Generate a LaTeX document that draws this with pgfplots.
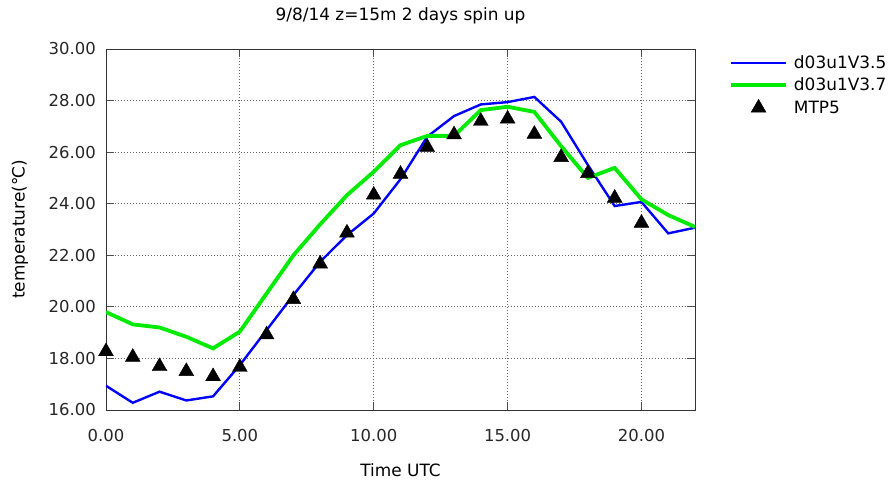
\documentclass[border=0pt]{standalone}
\usepackage{fontspec}
\setmainfont{DejaVu Sans}
\usepackage{pgfplots}
\pgfplotsset{compat=1.18}
\definecolor{bl}{RGB}{0,0,255}
\definecolor{gr}{RGB}{0,235,0}
\pgfplotsset{
  lineleg/.style={legend image code/.code={\draw[##1] (0bp,0bp) -- (55bp,0bp);}},
  markleg/.style={legend image code/.code={\draw[##1] plot coordinates {(27.5bp,0bp)};}},
}
\begin{document}
\begin{tikzpicture}
\path[use as bounding box] (-106bp,-70bp) rectangle (785bp,410bp);
\begin{axis}[
  anchor=south west,
  scale only axis, width=589bp, height=361bp,
  xmin=0, xmax=22, ymin=16, ymax=30,
  xtick={0,5,10,15,20}, ytick={16,18,20,22,24,26,28,30},
  /pgf/number format/fixed, /pgf/number format/fixed zerofill,
  /pgf/number format/precision=2, /pgf/number format/assume math mode=true,
  grid=major,
  major grid style={black!60, line width=0.8bp, dash pattern=on 1bp off 2bp},
  axis line style={black!80, line width=0.9bp},
  every tick/.style={black!70, line width=0.9bp},
  major tick length=8bp, tick align=inside,
  tick label style={font=\fontsize{16.5}{19}\selectfont, black!85},
  xticklabel style={anchor=base, inner sep=0pt, yshift=-31bp},
  yticklabel style={anchor=east, inner sep=0pt, xshift=-10bp},
  title={9/8/14 z=15m 2 days spin up},
  title style={at={(axis description cs:0.5,1)}, anchor=base, yshift=23bp, font=\fontsize{17}{20}\selectfont, inner sep=0pt},
  xlabel={Time UTC},
  xlabel style={at={(axis description cs:0.5,0)}, anchor=base, yshift=-66bp, font=\fontsize{17}{20}\selectfont, inner sep=0pt},
  ylabel={temperature(℃)},
  ylabel style={at={(axis description cs:-0.146,0.5)}, anchor=center, font=\fontsize{17}{20}\selectfont, inner sep=0pt},
  clip mode=individual,
  legend style={draw=none, fill=none, at={(axis description cs:1.0577,0.985)}, anchor=north west,
    inner sep=0pt, row sep=6bp, font=\fontsize{17}{20}\selectfont, nodes={inner sep=1bp},
    /tikz/every odd column/.append style={column sep=5bp}},
  legend cell align=left,
]
\addplot[bl, line width=2.4bp, lineleg] coordinates {
(0,16.94) (1,16.28) (2,16.71) (3,16.37) (4,16.53) (5,17.74) (6,19.10) (7,20.46)
(8,21.75) (9,22.78) (10,23.62) (11,24.95) (12,26.60) (13,27.40) (14,27.85) (15,27.94)
(16,28.14) (17,27.18) (18,25.50) (19,23.91) (20,24.07) (21,22.85) (22,23.07)};
\addlegendentry{d03u1V3.5}
\addplot[gr, line width=3.8bp, lineleg] coordinates {
(0,19.80) (1,19.32) (2,19.20) (3,18.84) (4,18.39) (5,19.04) (6,20.52) (7,22.00)
(8,23.20) (9,24.33) (10,25.24) (11,26.27) (12,26.63) (13,26.63) (14,27.63) (15,27.76)
(16,27.56) (17,26.23) (18,25.00) (19,25.39) (20,24.17) (21,23.56) (22,23.10)};
\addlegendentry{d03u1V3.7}
\addplot[only marks, mark=triangle*, mark size=8.6pt, black, markleg] coordinates {
(0,18.27) (1,18.05) (2,17.69) (3,17.50) (4,17.30) (5,17.66) (6,18.92) (7,20.29)
(8,21.67) (9,22.87) (10,24.34) (11,25.15) (12,26.19) (13,26.68) (14,27.20) (15,27.29)
(16,26.70) (17,25.80) (18,25.18) (19,24.22) (20,23.25)};
\addlegendentry{MTP5}
\end{axis}
\end{tikzpicture}
\end{document}
